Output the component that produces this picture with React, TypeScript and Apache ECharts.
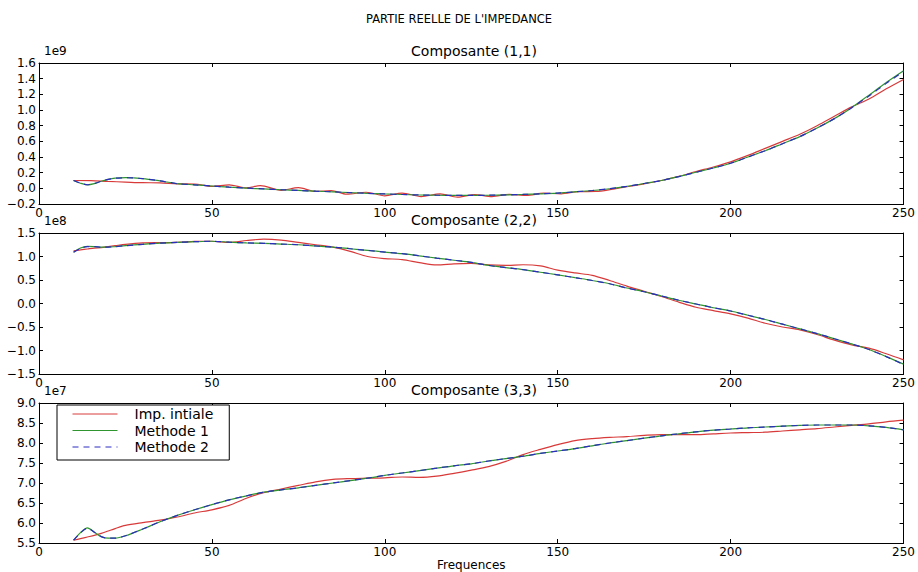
import React, { useEffect, useRef } from "react";
import * as echarts from "echarts";

// Frequencies (common grid)
const FREQ = [10, 12, 14, 16, 18, 20, 22, 25, 30, 35, 40, 45, 50, 55, 60, 65, 70, 75, 80, 85, 90, 95, 100, 105, 110, 115, 120, 125, 130, 135, 140, 145, 150, 155, 160, 165, 170, 175, 180, 185, 190, 195, 200, 205, 210, 215, 220, 225, 230, 235, 240, 245, 250];

// Composante (1,1) — values in 1e9
const FREQ_R11 = [10, 15, 20, 25, 30, 35, 40, 45, 50, 55, 60, 64, 70, 75, 80, 84.5, 89, 94.6, 100, 105, 110.5, 116, 121, 126, 131, 136, 141, 146, 151, 156, 161, 166, 170, 175, 180, 185, 190, 195, 200, 205, 210, 215, 220, 225, 230, 235, 240, 245, 250];
const C11_IMP = [0.10, 0.098, 0.088, 0.08, 0.072, 0.07, 0.058, 0.055, 0.025, 0.045, 0.005, 0.035, -0.025, 0.008, -0.04, -0.028, -0.075, -0.05, -0.095, -0.06, -0.105, -0.072, -0.112, -0.08, -0.105, -0.077, -0.09, -0.062, -0.07, -0.042, -0.04, -0.01, 0.02, 0.058, 0.10, 0.152, 0.215, 0.272, 0.338, 0.42, 0.51, 0.60, 0.69, 0.80, 0.92, 1.04, 1.14, 1.27, 1.39];
const C11_M1 = [0.10, 0.065, 0.045, 0.06, 0.09, 0.115, 0.13, 0.136, 0.125, 0.095, 0.06, 0.045, 0.03, 0.015, 0.003, -0.008, -0.018, -0.027, -0.036, -0.045, -0.055, -0.064, -0.072, -0.079, -0.085, -0.088, -0.09, -0.09, -0.088, -0.084, -0.078, -0.07, -0.06, -0.045, -0.028, -0.005, 0.025, 0.062, 0.10, 0.15, 0.205, 0.26, 0.32, 0.40, 0.48, 0.57, 0.66, 0.77, 0.89, 1.03, 1.19, 1.35, 1.50];
const C11_M2 = [0.10, 0.066, 0.046, 0.061, 0.09, 0.114, 0.129, 0.135, 0.124, 0.095, 0.06, 0.045, 0.03, 0.015, 0.003, -0.008, -0.018, -0.027, -0.036, -0.045, -0.055, -0.064, -0.072, -0.079, -0.085, -0.088, -0.09, -0.09, -0.088, -0.084, -0.078, -0.07, -0.06, -0.045, -0.028, -0.005, 0.025, 0.062, 0.10, 0.15, 0.205, 0.26, 0.32, 0.40, 0.48, 0.57, 0.66, 0.77, 0.89, 1.03, 1.18, 1.34, 1.49];

// Composante (2,2) — values in 1e8
const C22_IMP = [1.12, 1.14, 1.16, 1.18, 1.19, 1.21, 1.23, 1.26, 1.29, 1.295, 1.30, 1.32, 1.325, 1.30, 1.34, 1.37, 1.35, 1.30, 1.25, 1.20, 1.11, 1.00, 0.955, 0.935, 0.87, 0.82, 0.845, 0.855, 0.82, 0.81, 0.825, 0.80, 0.71, 0.65, 0.60, 0.49, 0.37, 0.26, 0.15, 0.03, -0.08, -0.15, -0.22, -0.31, -0.42, -0.50, -0.56, -0.66, -0.78, -0.88, -0.95, -1.07, -1.20];
const C22_M1 = [1.09, 1.18, 1.215, 1.21, 1.20, 1.20, 1.21, 1.23, 1.26, 1.285, 1.30, 1.315, 1.325, 1.305, 1.29, 1.28, 1.265, 1.25, 1.225, 1.20, 1.165, 1.13, 1.095, 1.06, 1.015, 0.965, 0.92, 0.875, 0.81, 0.765, 0.72, 0.665, 0.61, 0.55, 0.49, 0.42, 0.33, 0.25, 0.16, 0.07, -0.01, -0.09, -0.16, -0.25, -0.34, -0.44, -0.54, -0.64, -0.75, -0.86, -0.98, -1.13, -1.29];
const C22_M2 = [1.09, 1.17, 1.21, 1.21, 1.20, 1.20, 1.21, 1.23, 1.26, 1.285, 1.30, 1.315, 1.325, 1.305, 1.29, 1.28, 1.265, 1.25, 1.225, 1.20, 1.165, 1.13, 1.095, 1.06, 1.015, 0.965, 0.92, 0.875, 0.81, 0.765, 0.72, 0.665, 0.61, 0.55, 0.49, 0.42, 0.33, 0.25, 0.16, 0.07, -0.01, -0.09, -0.16, -0.25, -0.34, -0.44, -0.54, -0.64, -0.75, -0.86, -0.98, -1.13, -1.30];

// Composante (3,3) — values in 1e7
const C33_IMP = [5.57, 5.61, 5.65, 5.69, 5.74, 5.80, 5.86, 5.94, 6.01, 6.07, 6.15, 6.25, 6.33, 6.44, 6.62, 6.76, 6.85, 6.94, 7.03, 7.09, 7.11, 7.12, 7.13, 7.15, 7.14, 7.17, 7.24, 7.32, 7.41, 7.54, 7.71, 7.84, 7.96, 8.06, 8.11, 8.14, 8.16, 8.19, 8.21, 8.21, 8.21, 8.23, 8.25, 8.26, 8.27, 8.30, 8.33, 8.36, 8.40, 8.44, 8.48, 8.53, 8.57];
const C33_M1 = [5.57, 5.76, 5.88, 5.77, 5.66, 5.62, 5.62, 5.68, 5.85, 6.03, 6.19, 6.33, 6.46, 6.58, 6.68, 6.77, 6.83, 6.88, 6.94, 7.00, 7.06, 7.12, 7.19, 7.25, 7.31, 7.37, 7.43, 7.48, 7.55, 7.61, 7.67, 7.74, 7.80, 7.86, 7.93, 8.00, 8.06, 8.12, 8.18, 8.23, 8.28, 8.32, 8.35, 8.38, 8.40, 8.42, 8.44, 8.45, 8.45, 8.45, 8.43, 8.39, 8.33];
const C33_M2 = [5.57, 5.75, 5.87, 5.77, 5.66, 5.62, 5.62, 5.68, 5.85, 6.03, 6.19, 6.33, 6.46, 6.58, 6.68, 6.77, 6.83, 6.88, 6.94, 7.00, 7.06, 7.12, 7.19, 7.25, 7.31, 7.37, 7.43, 7.48, 7.55, 7.61, 7.67, 7.74, 7.80, 7.86, 7.93, 8.00, 8.06, 8.12, 8.18, 8.23, 8.28, 8.32, 8.35, 8.38, 8.40, 8.42, 8.44, 8.45, 8.45, 8.45, 8.43, 8.39, 8.33];

const SERIES_NAMES = ["Imp. intiale", "Methode 1", "Methode 2"];
const SUBTITLES = ["Composante (1,1)", "Composante (2,2)", "Composante (3,3)"];
const MAIN_TITLE = "PARTIE REELLE DE L'IMPEDANCE";
const X_NAME = "Frequences";
const Y_EXP = ["1e9", "1e8", "1e7"];
const Y_RANGES = [
  { min: -0.2, max: 1.6, interval: 0.2 },
  { min: -1.5, max: 1.5, interval: 0.5 },
  { min: 5.5, max: 9.0, interval: 0.5 },
];

const FONT = '"DejaVu Sans", "Liberation Sans", sans-serif';
const RED = "#d83a3a";
const GREEN = "#2f962f";
const BLUE = "#2b2bc0";
const AX = "#000";

const pairs = (xs: number[], ys: number[]) => xs.map((x, i) => [x, ys[i]]);
const fmt = (v: number) => {
  if (Math.abs(v) < 1e-9) return "0.0";
  return v.toFixed(1).replace("-", "\u2212");
};

export default function App() {
  const ref = useRef<HTMLDivElement>(null);
  useEffect(() => {
    if (!ref.current) return;
    const chart = echarts.init(ref.current, null, { renderer: "svg" });
    const grids = [
      { left: 39, right: 9, top: 63, height: 141 },
      { left: 39, right: 9, top: 233, height: 141 },
      { left: 39, right: 9, top: 403, height: 140 },
    ];
    const xAxes: any[] = [];
    const yAxes: any[] = [];
    grids.forEach((_, g) => {
      xAxes.push({
        type: "value", gridIndex: g, position: "bottom", min: 0, max: 250, interval: 50,
        axisLine: { show: true, onZero: false, lineStyle: { color: AX, width: 1 } },
        axisTick: { show: true, inside: true, length: 4, lineStyle: { color: AX } },
        axisLabel: { show: true, margin: 3, color: "#000", fontSize: 12, lineHeight: 12, fontFamily: FONT },
        splitLine: { show: false },
        name: g === 2 ? X_NAME : "",
        nameLocation: "middle", nameGap: 16,
        nameTextStyle: { color: "#000", fontSize: 12, lineHeight: 12, fontFamily: FONT },
      });
      xAxes.push({
        type: "value", gridIndex: g, position: "top", min: 0, max: 250, interval: 50,
        axisLine: { show: true, onZero: false, lineStyle: { color: AX, width: 1 } },
        axisTick: { show: true, inside: true, length: 4, lineStyle: { color: AX } },
        axisLabel: { show: false }, splitLine: { show: false },
      });
      const r = Y_RANGES[g];
      yAxes.push({
        type: "value", gridIndex: g, position: "left", min: r.min, max: r.max, interval: r.interval,
        axisLine: { show: true, onZero: false, lineStyle: { color: AX, width: 1 } },
        axisTick: { show: true, inside: true, length: 4, lineStyle: { color: AX } },
        axisLabel: { show: true, margin: 3, color: "#000", fontSize: 12, lineHeight: 12, fontFamily: FONT, formatter: fmt },
        splitLine: { show: false },
        name: Y_EXP[g], nameLocation: "end", nameGap: 0,
        nameTextStyle: { color: "#000", fontSize: 12, lineHeight: 11, fontFamily: FONT, align: "left", verticalAlign: "bottom", padding: [0, 0, 1, 5] },
      });
      yAxes.push({
        type: "value", gridIndex: g, position: "right", min: r.min, max: r.max, interval: r.interval,
        axisLine: { show: true, onZero: false, lineStyle: { color: AX, width: 1 } },
        axisTick: { show: true, inside: true, length: 4, lineStyle: { color: AX } },
        axisLabel: { show: false }, splitLine: { show: false },
      });
    });

    const data = [
      [pairs(FREQ_R11, C11_IMP), pairs(FREQ, C11_M1), pairs(FREQ, C11_M2)],
      [pairs(FREQ, C22_IMP), pairs(FREQ, C22_M1), pairs(FREQ, C22_M2)],
      [pairs(FREQ, C33_IMP), pairs(FREQ, C33_M1), pairs(FREQ, C33_M2)],
    ];
    const colors = [RED, GREEN, BLUE];
    const series: any[] = [];
    data.forEach((set, g) => {
      set.forEach((d, k) => {
        series.push({
          type: "line", name: SERIES_NAMES[k], xAxisIndex: g * 2, yAxisIndex: g * 2,
          data: d, symbol: "none", showSymbol: false, smooth: 0.3, z: 2 + k,
          lineStyle: { color: colors[k], width: 1.2, type: k === 2 ? [6, 5] : "solid" },
          itemStyle: { color: colors[k] },
        });
      });
    });

    const txt = (x: number, y: number, text: string, size: number) => ({
      type: "text", x, y,
      style: {
        text, font: `${size}px ${FONT}`, fill: "#000",
        align: "center", verticalAlign: "middle", textAlign: "center", textVerticalAlign: "middle",
      },
    });

    chart.setOption({
      animation: false,
      backgroundColor: "#fff",
      grid: grids,
      xAxis: xAxes,
      yAxis: yAxes,
      series,
      legend: {
        data: SERIES_NAMES, orient: "vertical", left: 57, top: 405,
        backgroundColor: "#fff", borderColor: "#000", borderWidth: 1, borderRadius: 0,
        padding: [2, 16, 6, 15], itemWidth: 45, itemHeight: 12, itemGap: 2.5,
        itemStyle: { opacity: 0 },
        lineStyle: { width: 1 },
        textStyle: { fontSize: 14, lineHeight: 12, fontFamily: FONT, color: "#000", padding: [0, 0, 0, 12] },
        selectedMode: false,
      },
      graphic: [
        txt(459, 19, MAIN_TITLE, 11.5),
        txt(474, 51, SUBTITLES[0], 14),
        txt(474, 220, SUBTITLES[1], 14),
        txt(474, 390, SUBTITLES[2], 14),
      ],
    });
    return () => chart.dispose();
  }, []);
  return (
    <div
      ref={ref}
      style={{ position: "fixed", left: 0, top: 0, width: 918, height: 572, background: "#fff" }}
    />
  );
}
